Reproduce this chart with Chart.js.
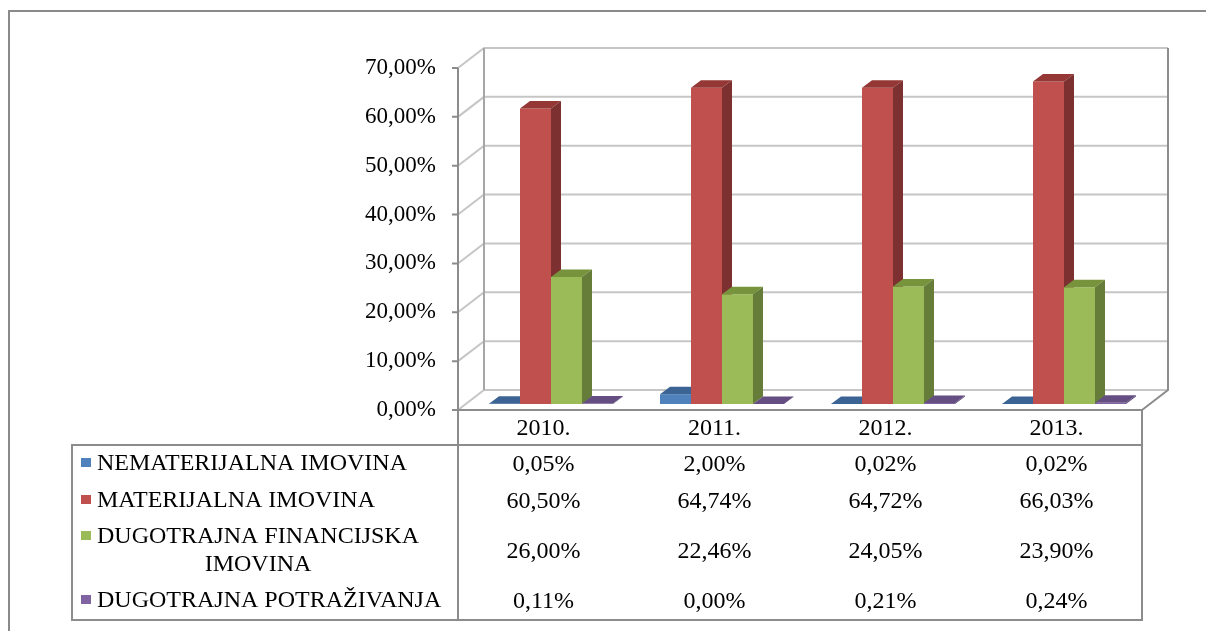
<!DOCTYPE html>
<html>
<head>
<meta charset="utf-8">
<script src="https://cdn.jsdelivr.net/npm/chart.js@4.4.0/dist/chart.umd.min.js"></script>
<style>
  html, body { margin: 0; padding: 0; background: #fff; }
  canvas { display: block; }
</style>
</head>
<body>
<canvas id="chart" width="1206" height="631"></canvas>
<script>
// data
const years = ['2010.', '2011.', '2012.', '2013.'];
const seriesNames = ['NEMATERIJALNA IMOVINA', 'MATERIJALNA IMOVINA', 'DUGOTRAJNA FINANCIJSKA IMOVINA', 'DUGOTRAJNA POTRAŽIVANJA'];
const nematerijalna = [0.05, 2.00, 0.02, 0.02];
const materijalna = [60.50, 64.74, 64.72, 66.03];
const financijska = [26.00, 22.46, 24.05, 23.90];
const potrazivanja = [0.11, 0.00, 0.21, 0.24];
const yMin = 0, yMax = 70, yStep = 10;

// face colours: front / top / side
const faces = [
    { front: '#4F81BD', top: '#3B6495', side: '#385D8A' },
    { front: '#C0504D', top: '#953735', side: '#7C3130' },
    { front: '#9BBB59', top: '#77933C', side: '#667D3A' },
    { front: '#8064A2', top: '#654E82', side: '#5C4776' },
];

const FONT = '"Liberation Serif", "Times New Roman", serif';
const SIZE = 23;        // value axis
const TABLE_SIZE = 24;  // data table
const fmt = (v) => v.toFixed(2).replace('.', ',') + '%';

const DX = 26, DY = -20;     // depth of the walls
const SX = 7.5, SY = -6;     // bars sit a little behind the front plane
const BX = 10, BY = -7.5;    // depth of a bar

function poly(ctx, pts, color) {
    ctx.fillStyle = color;
    ctx.beginPath();
    ctx.moveTo(pts[0][0], pts[0][1]);
    for (let i = 1; i < pts.length; i++) ctx.lineTo(pts[i][0], pts[i][1]);
    ctx.closePath();
    ctx.fill();
}

const box3d = {
    id: 'box3d',
    beforeDraw(chart) {
        const ctx = chart.ctx;
        const a = chart.chartArea;
        const y = chart.scales.y;
        ctx.save();
        ctx.fillStyle = '#fff';
        ctx.fillRect(0, 0, chart.width, chart.height);

        // outer frame
        ctx.strokeStyle = '#8a8a8a';
        ctx.lineWidth = 2;
        ctx.beginPath();
        ctx.moveTo(9, chart.height);
        ctx.lineTo(9, 11);
        ctx.lineTo(chart.width, 11);
        ctx.stroke();

        // gridlines on side wall and back wall
        ctx.strokeStyle = '#c6c6c6';
        y.ticks.forEach((t) => {
            const py = y.getPixelForValue(t.value);
            ctx.beginPath();
            ctx.moveTo(a.left, py);
            ctx.lineTo(a.left + DX, py + DY);
            ctx.lineTo(a.right + DX, py + DY);
            ctx.stroke();
        });

        // wall edges and floor
        ctx.strokeStyle = '#a6a6a6';
        ctx.beginPath();
        ctx.moveTo(a.left + DX, a.bottom + DY);
        ctx.lineTo(a.left + DX, a.top + DY);
        ctx.stroke();
        ctx.strokeStyle = '#8c8c8c';
        ctx.beginPath();
        ctx.moveTo(a.right + DX, a.top + DY);
        ctx.lineTo(a.right + DX, a.bottom + DY);
        ctx.lineTo(a.right, a.bottom);
        ctx.stroke();

        // front value axis with tick marks
        ctx.beginPath();
        ctx.moveTo(a.left, a.top);
        ctx.lineTo(a.left, a.bottom);
        y.ticks.forEach((t) => {
            const py = y.getPixelForValue(t.value);
            ctx.moveTo(a.left - 6, py);
            ctx.lineTo(a.left, py);
        });
        ctx.stroke();
        ctx.restore();
    },
    beforeDatasetsDraw(chart) {
        const ctx = chart.ctx;
        ctx.save();
        for (let i = 0; i < years.length; i++) {
            chart.data.datasets.forEach((ds, d) => {
                const el = chart.getDatasetMeta(d).data[i];
                const p = el.getProps(['x', 'y', 'base', 'width'], true);
                const l = p.x - p.width / 2 + SX;
                const r = p.x + p.width / 2 + SX;
                const t = Math.min(p.y, p.base) + SY;
                const b = p.base + SY;
                const f = faces[d];
                poly(ctx, [[l, t], [r, t], [r, b], [l, b]], f.front);
                poly(ctx, [[l, t], [l + BX, t + BY], [r + BX, t + BY], [r, t]], f.top);
                poly(ctx, [[r, t], [r + BX, t + BY], [r + BX, b + BY], [r, b]], f.side);
            });
        }
        ctx.restore();
        return false;
    },
    afterDraw(chart) {
        const ctx = chart.ctx;
        const a = chart.chartArea;
        const x = chart.scales.x;
        const tLeft = 72, tTop = 445, tBottom = 620;
        ctx.save();
        ctx.strokeStyle = '#8c8c8c';
        ctx.lineWidth = 2;
        ctx.beginPath();
        ctx.moveTo(a.left, a.bottom);
        ctx.lineTo(a.right, a.bottom);
        ctx.lineTo(a.right, tBottom);
        ctx.lineTo(tLeft, tBottom);
        ctx.lineTo(tLeft, tTop);
        ctx.lineTo(a.right, tTop);
        ctx.moveTo(a.left, a.bottom);
        ctx.lineTo(a.left, tBottom);
        ctx.stroke();

        const rowY = [463, 500, 550, 600];
        const labelLines = [
            [seriesNames[0]],
            [seriesNames[1]],
            ['DUGOTRAJNA FINANCIJSKA', 'IMOVINA'],
            [seriesNames[3]],
        ];
        ctx.font = TABLE_SIZE + 'px ' + FONT;
        ctx.textBaseline = 'middle';
        chart.data.datasets.forEach((ds, d) => {
            const ry = rowY[d];
            const lines = labelLines[d];
            const ly = lines.length === 1 ? [ry] : [ry - 14, ry + 14];
            ctx.fillStyle = faces[d].front;
            ctx.fillRect(81, ly[0] - 5, 10, 9);
            ctx.fillStyle = '#000';
            ctx.textAlign = 'left';
            ctx.fillText(lines[0], 97, ly[0] + 1);
            if (lines.length > 1) {
                const w0 = ctx.measureText(lines[0]).width;
                ctx.textAlign = 'center';
                ctx.fillText(lines[1], 97 + w0 / 2, ly[1] + 1);
            }
            ctx.textAlign = 'center';
            ds.data.forEach((v, i) => {
                ctx.fillText(fmt(v), x.getPixelForValue(i), ry + 2);
            });
        });
        ctx.restore();
    },
};

new Chart(document.getElementById('chart'), {
    type: 'bar',
    data: {
        labels: years,
        datasets: [
            { label: seriesNames[0], data: nematerijalna, backgroundColor: faces[0].front },
            { label: seriesNames[1], data: materijalna, backgroundColor: faces[1].front },
            { label: seriesNames[2], data: financijska, backgroundColor: faces[2].front },
            { label: seriesNames[3], data: potrazivanja, backgroundColor: faces[3].front },
        ],
    },
    options: {
        responsive: false,
        animation: false,
        layout: { padding: { top: 68, right: 64, left: 0, bottom: 0 } },
        datasets: { bar: { categoryPercentage: 0.725, barPercentage: 1 } },
        plugins: { legend: { display: false }, tooltip: { enabled: false } },
        scales: {
            x: {
                grid: { display: false, drawTicks: false },
                border: { display: false },
                ticks: { color: '#000', font: { family: FONT, size: TABLE_SIZE }, padding: 4 },
                afterFit: (s) => { s.height = 221; },
            },
            y: {
                min: yMin,
                max: yMax,
                grid: { display: false, drawTicks: false },
                border: { display: false },
                ticks: {
                    stepSize: yStep,
                    color: '#000',
                    font: { family: FONT, size: SIZE },
                    padding: 22,
                    callback: (v) => fmt(v),
                },
                afterFit: (s) => { s.width = 458; },
            },
        },
    },
    plugins: [box3d],
});
</script>
</body>
</html>
